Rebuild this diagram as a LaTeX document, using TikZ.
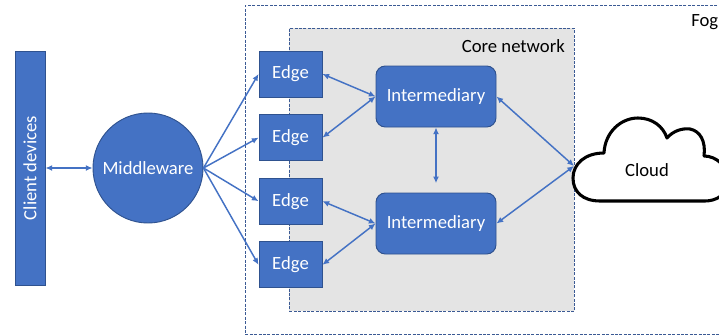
\documentclass[tikz,border=0pt]{standalone}
\usepackage{fontspec}
\setmainfont{Carlito}
\usetikzlibrary{arrows.meta, positioning}
\definecolor{officeblue}{HTML}{4472C4}
\definecolor{darkblue}{HTML}{2F528F}
\definecolor{coregray}{HTML}{E4E4E4}
\definecolor{dashblue}{HTML}{3B5A94}
\tikzset{
    bluebox/.style={
        draw=darkblue,
        fill=officeblue,
        line width=0.7pt,
        text=white,
        align=center
    },
    edgebox/.style={
        bluebox,
        minimum width=47.25pt,
        minimum height=34.5pt
    },
    interbox/.style={
        bluebox,
        rounded corners=7pt,
        minimum width=90pt,
        minimum height=45.75pt
    },
    region/.style={
        draw=dashblue,
        line width=0.6pt,
        dash pattern=on 2.2pt off 1.1pt,
        anchor=north west,
        inner sep=0pt
    },
    cloudline/.style={draw=black, fill=white, line width=2.3pt, line join=round},
    line/.style={-{Latex[length=5pt,width=4.5pt]}, officeblue, line width=1.1pt},
    biline/.style={{Latex[length=5pt,width=4.5pt]}-{Latex[length=5pt,width=4.5pt]}, officeblue, line width=1.1pt},
    every node/.style={font=\fontsize{14}{17}\selectfont}
}
\begin{document}
\begin{tikzpicture}[x=0.75pt, y=-0.75pt, node distance=12.5pt]
\useasboundingbox (0,0) rectangle (719,336);
\clip (0,0) rectangle (719,336);

% fog layer and the core network inside it
\node[region, minimum width=363.75pt, minimum height=246.75pt] (fog) at (245,5) {};
\node[anchor=west, inner sep=0pt] (foglbl) at (691,22) {Fog};
\node[region, fill=coregray, minimum width=213.75pt, minimum height=212.25pt] (core) at (289,28) {};
\node[anchor=east, inner sep=0pt] (corelbl) at (565,46) {Core network};

\node[bluebox, rotate=90, minimum width=175.5pt, minimum height=22.5pt] (client) at (30,168) {Client devices};
\node[bluebox, circle, minimum size=82.5pt, inner sep=0pt] (mw) at (148,168) {Middleware};

\node[edgebox] (e1) at (290.5,74) {Edge};
\node[edgebox, below=of e1] (e2) {Edge};
\node[edgebox, below=of e2] (e3) {Edge};
\node[edgebox, below=of e3] (e4) {Edge};

\node[interbox] (i1) at (436,96.5) {Intermediary};
\node[interbox] (i2) at (436,223.5) {Intermediary};

% cloud outline, runs off to the right
\path[cloudline] (600,201)
    .. controls (583,201) and (573,192) .. (573,178)
    .. controls (573,164) and (585,153) .. (604,153)
    .. controls (605,132) and (621,118) .. (638,118)
    .. controls (652,118) and (663,126) .. (667,138)
    .. controls (673,131) and (682,128) .. (690,129)
    .. controls (700,131) and (706,141) .. (704,156)
    .. controls (716,156) and (728,166) .. (728,180)
    .. controls (728,195) and (716,201) .. (705,201)
    -- cycle;
\coordinate (cloudin) at (574,166);
\node (cloud) at (647,170) {Cloud};

\draw[biline] (client.south) -- (mw.west);
\foreach \e in {e1,e2,e3,e4}
    \draw[line] (mw.east) -- (\e.west);

\draw[biline] (e1.east) -- (i1.west);
\draw[biline] (e2.east) -- (i1.west);
\draw[biline] (e3.east) -- (i2.west);
\draw[biline] (e4.east) -- (i2.west);

\draw[biline, shorten >=7pt] (i1.south) -- (i2.north);
\draw[biline] (i1.east) -- (cloudin);
\draw[biline] (i2.east) -- (cloudin);
\end{tikzpicture}
\end{document}
